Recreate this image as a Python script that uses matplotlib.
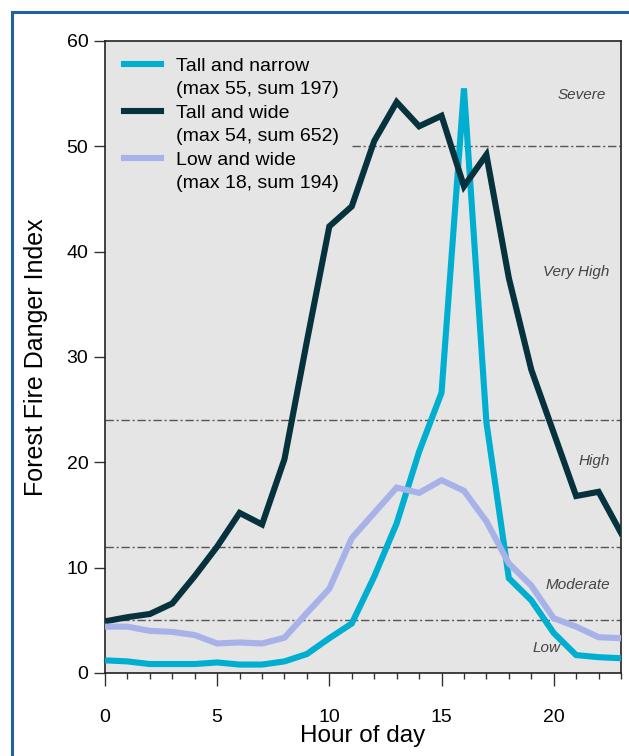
import numpy as np
import matplotlib.pyplot as plt
from matplotlib.patches import Rectangle
from matplotlib.lines import Line2D

# Hourly Forest Fire Danger Index for three example days
hours = list(range(24))
tall_narrow = [1.2, 1.1, 0.85, 0.85, 0.85, 1.0, 0.8, 0.8, 1.1, 1.8, 3.3, 4.7,
               9.15, 14.2, 21.0, 26.6, 55.5, 23.8, 9.0, 6.9, 3.8, 1.7, 1.5, 1.4]
tall_wide = [4.9, 5.3, 5.6, 6.6, 9.2, 12.0, 15.2, 14.1, 20.3, 31.5, 42.4, 44.3,
             50.5, 54.2, 51.9, 52.9, 46.2, 49.2, 37.5, 28.8, 22.8, 16.8, 17.2, 13.3]
low_wide = [4.4, 4.4, 4.0, 3.9, 3.6, 2.8, 2.9, 2.8, 3.35, 5.7, 8.0, 12.8,
            15.2, 17.6, 17.1, 18.3, 17.3, 14.4, 10.4, 8.3, 5.2, 4.4, 3.4, 3.3]

series_names = ["Tall and narrow", "Tall and wide", "Low and wide"]
series_notes = ["(max 55, sum 197)", "(max 54, sum 652)", "(max 18, sum 194)"]
series_colors = ["#00aed0", "#06323d", "#a6b2e8"]

# Danger category thresholds and labels
thresholds = [5, 12, 24, 50]
threshold_start = [0, 0, 0, 11]
category_names = ["Low", "Moderate", "High", "Very High", "Severe"]
category_y = [2.35, 8.4, 20.1, 38.1, 54.9]
category_x = [19.7, 22.5, 22.5, 22.5, 22.35]

plt.rcParams['font.family'] = ['Liberation Sans', 'DejaVu Sans']

fig = plt.figure(figsize=(6.29, 7.56), dpi=100)
ax = fig.add_axes([0.1669, 0.1098, 0.8204, 0.836])
ax.set_facecolor("#e5e5e5")

# Blue frame around the figure (runs off the right and bottom edges)
fig.patches.append(Rectangle((12 / 629, -0.05), 1.1, 1 - 12 / 756 + 0.05,
                             transform=fig.transFigure, fill=False,
                             edgecolor="#2260a8", linewidth=2.2))

for th, x0 in zip(thresholds, threshold_start):
    ax.hlines(th, x0, 23, colors="#555555", linestyles=(0, (6, 2, 1.5, 2)),
              linewidth=1.0, zorder=1)

for name, x, y in zip(category_names, category_x, category_y):
    ha = "center" if name == "Low" else "right"
    ax.text(x, y, name, fontsize=11, style="italic", color="#444444",
            ha=ha, va="center")

handles, labels = [], []
for vals, nm, note, col in zip([tall_narrow, tall_wide, low_wide],
                               series_names, series_notes, series_colors):
    ln, = ax.plot(hours, vals, color=col, linewidth=4.4, zorder=3,
                  solid_joinstyle="miter")
    # handle sits on the first text line, second line gets an empty handle
    handles += [ln, Line2D([], [], linestyle="none")]
    labels += [nm, note]

ax.set_xlim(0, 23)
ax.set_ylim(0, 60)
ax.set_xticks([0, 5, 10, 15, 20])
ax.set_xticks(hours, minor=True)
ax.set_yticks(range(0, 61, 10))
ax.tick_params(axis="x", which="major", length=9, width=1, color="#333333",
               labelsize=14, pad=17)
ax.tick_params(axis="x", which="minor", length=4.5, width=1, color="#333333")
ax.tick_params(axis="y", which="major", length=8, width=1, color="#333333",
               labelsize=14, pad=4)
for sp in ax.spines.values():
    sp.set_color("#222222")
    sp.set_linewidth(1.2)

ax.set_xlabel("Hour of day", fontsize=17.5, labelpad=-1)
ax.set_ylabel("Forest Fire Danger Index", fontsize=18, labelpad=13)

leg = ax.legend(handles, labels, loc="upper left", frameon=False, fontsize=14,
                handlelength=1.9, handletextpad=0.8, labelspacing=0.3,
                borderaxespad=0.3, bbox_to_anchor=(0.01, 0.996))

fig.savefig("out.png", dpi=100)
